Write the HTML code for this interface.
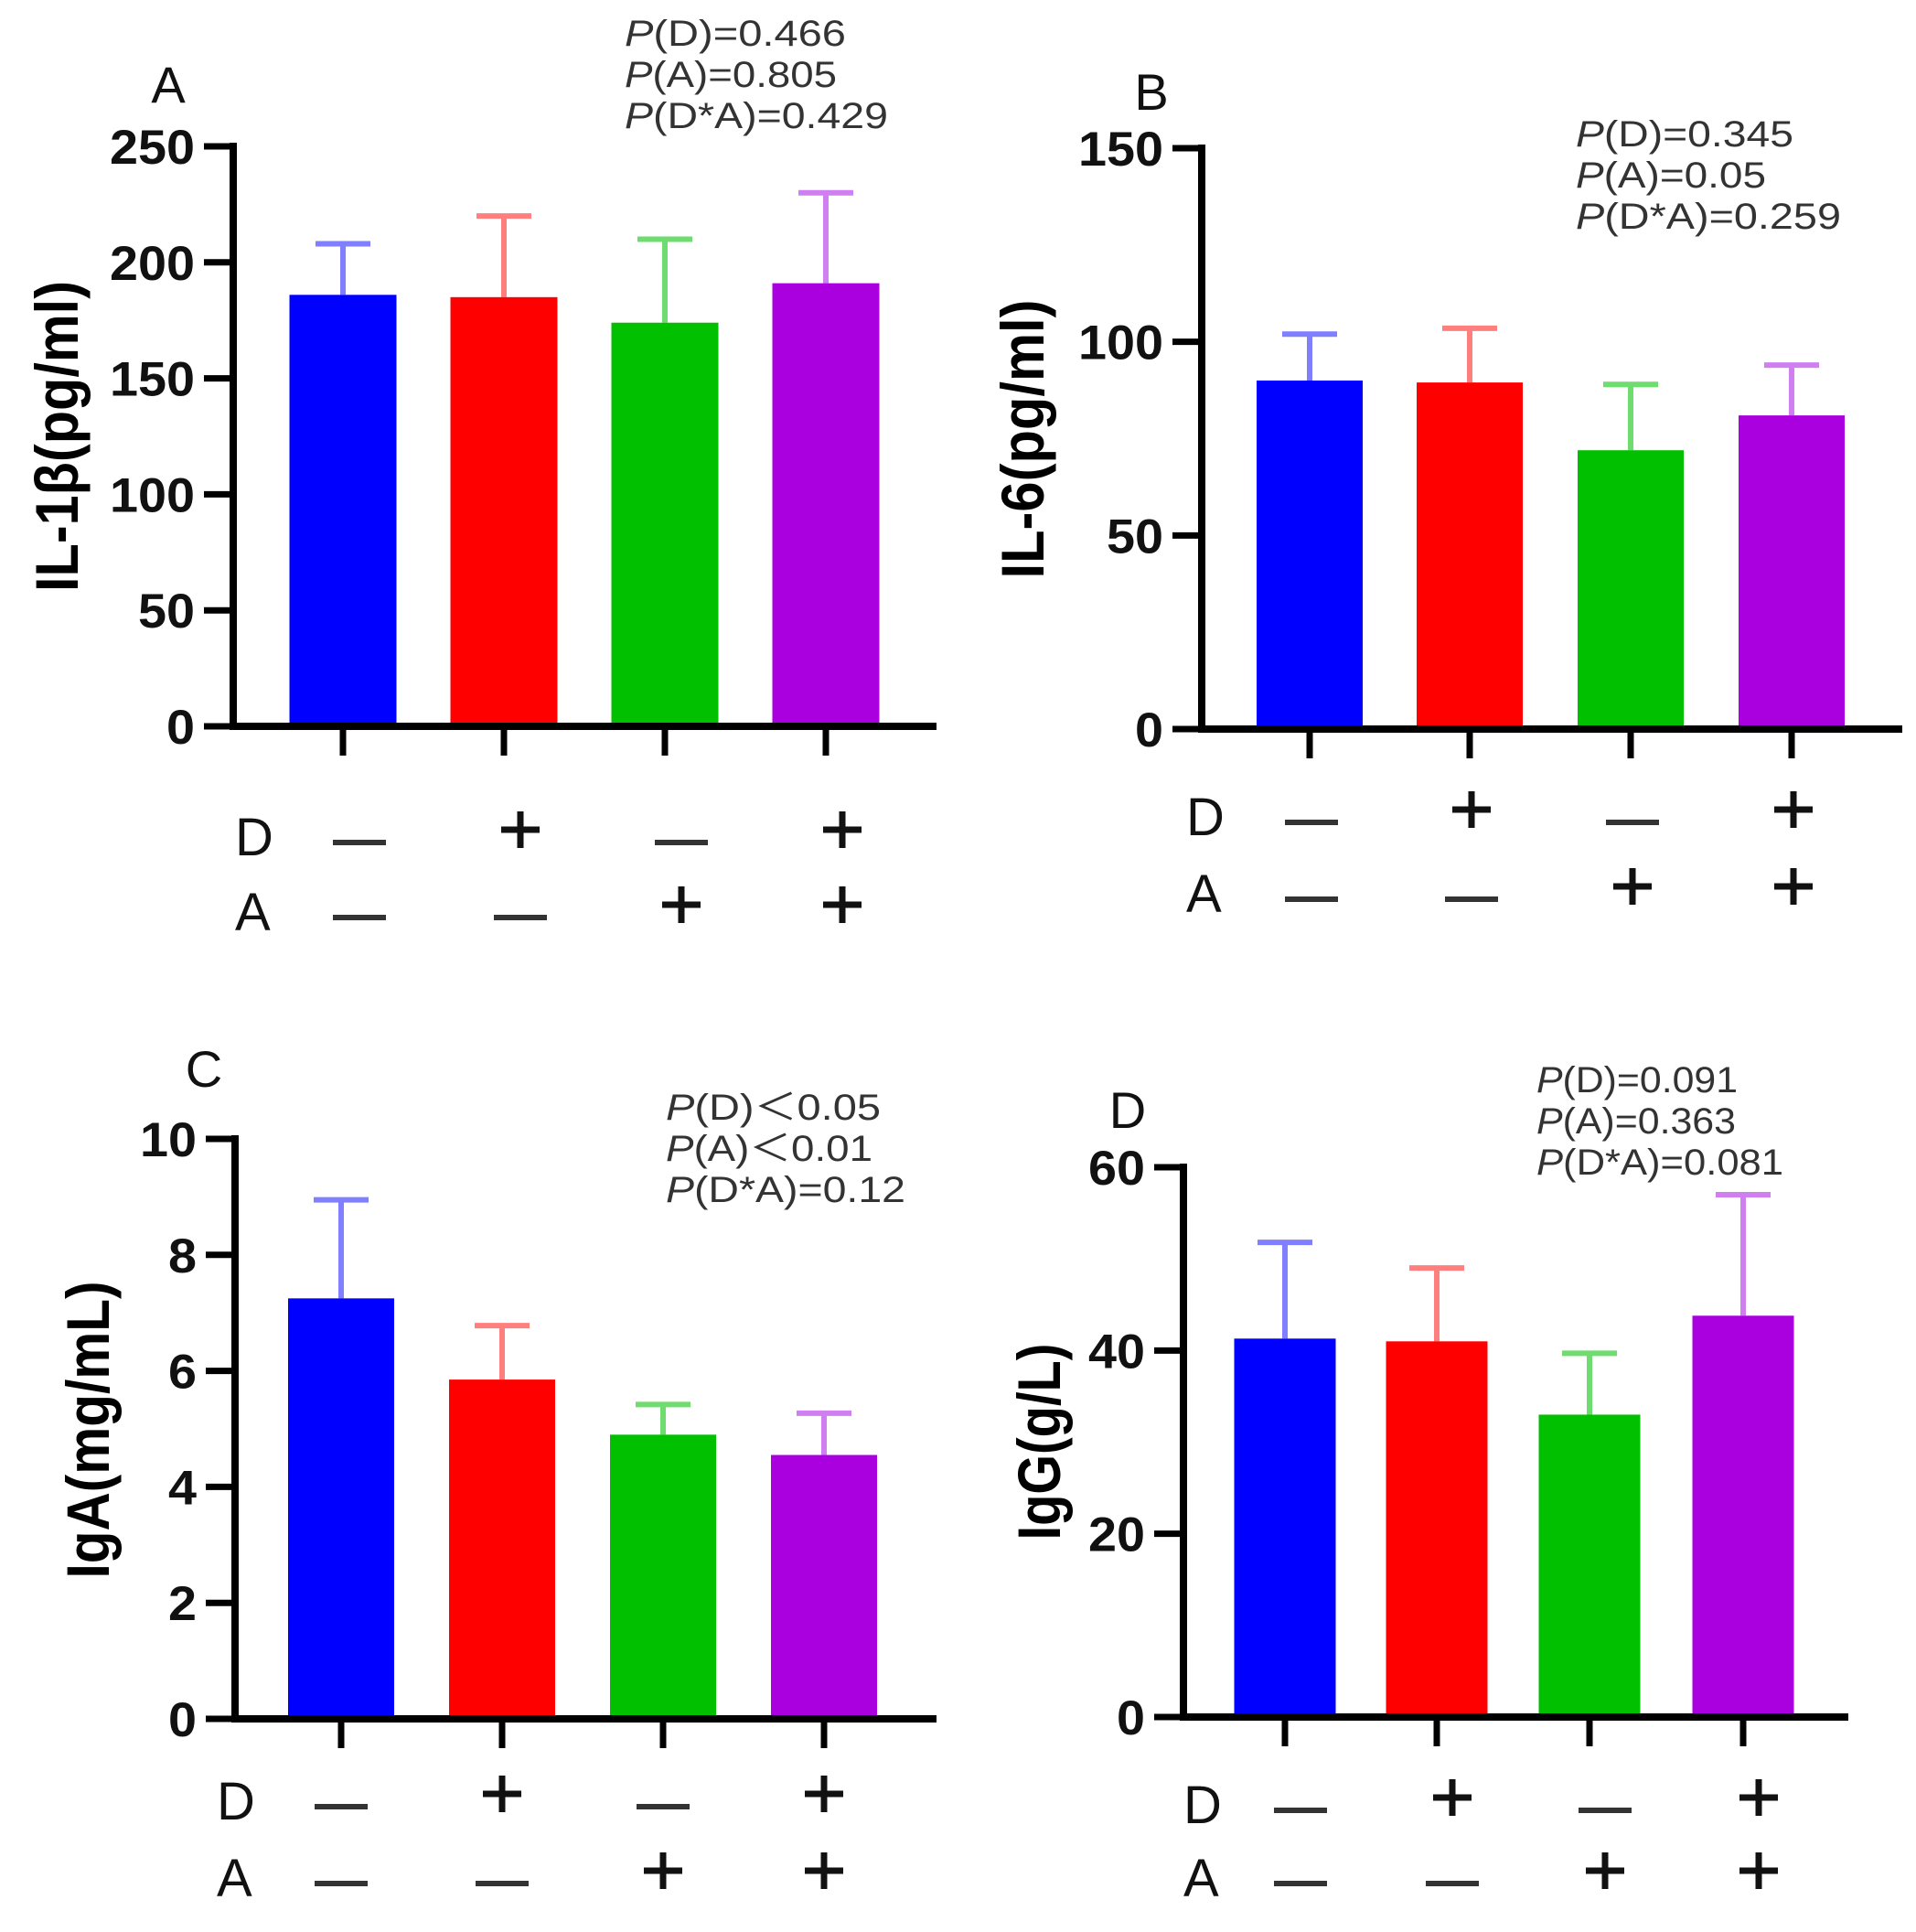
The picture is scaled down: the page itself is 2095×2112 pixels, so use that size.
<!DOCTYPE html>
<html><head><meta charset="utf-8">
<style>
html,body{margin:0;padding:0;background:#fff;}
svg{display:block;}
text{font-family:"Liberation Sans",Arial,sans-serif;}
</style></head>
<body>
<svg id="fig" xmlns="http://www.w3.org/2000/svg" width="2095" height="2112" viewBox="0 0 2095 2112"></svg>
<script>
// ---- data ----
const groups = ['D-A-','D+A-','D-A+','D+A+'];
const dSigns = ['-','+','-','+'];
const aSigns = ['-','-','+','+'];
const il1bMeans = [186, 185, 174, 191];
const il1bUpper = [208, 220, 210, 230];
const il1bTicks = [0, 50, 100, 150, 200, 250];
const il6Means = [90, 89.5, 72, 81];
const il6Upper = [102, 103.5, 89, 94];
const il6Ticks = [0, 50, 100, 150];
const igaMeans = [7.25, 5.85, 4.9, 4.55];
const igaUpper = [8.95, 6.78, 5.42, 5.27];
const igaTicks = [0, 2, 4, 6, 8, 10];
const iggMeans = [41.3, 41.0, 33.0, 43.8];
const iggUpper = [51.8, 49.0, 39.7, 57.0];
const iggTicks = [0, 20, 40, 60];
const pA = ['P(D)=0.466','P(A)=0.805','P(D*A)=0.429'];
const pB = ['P(D)=0.345','P(A)=0.05','P(D*A)=0.259'];
const pC = ['P(D)＜0.05','P(A)＜0.01','P(D*A)=0.12'];
const pD = ['P(D)=0.091','P(A)=0.363','P(D*A)=0.081'];

const barColors = ['#0000ff','#ff0000','#00c000','#aa00e0'];
const errColors = ['#7f7fff','#ff7f7f','#6fdc6f','#d07ff0'];
const NS = 'http://www.w3.org/2000/svg';
const svg = document.getElementById('fig');
function mk(tag, attrs, parent){
  const e = document.createElementNS(NS, tag);
  for (const k in attrs) e.setAttribute(k, attrs[k]);
  (parent||svg).appendChild(e);
  return e;
}

function panel(cfg){
  const g = mk('g', {});
  
  
  const max = cfg.ticks[cfg.ticks.length-1];
  const yS = v => cfg.y0 - (v/max)*(cfg.y0 - cfg.yTop);
  cfg.means.forEach((m,i)=>{
    const cx = cfg.cats[i];
    const eb = mk('line',{x1:cx,x2:cx,y1:yS(m),y2:yS(cfg.upper[i]),stroke:errColors[i],'stroke-width':6},g);
    
    
    const cap = mk('line',{x1:cx-30,x2:cx+30,y1:yS(cfg.upper[i]),y2:yS(cfg.upper[i]),stroke:errColors[i],'stroke-width':6},g);
    
    
    const r = mk('rect',{x:cx-cfg.bw/2,y:yS(m),width:cfg.bw,height:cfg.y0-yS(m),fill:barColors[i]},g);
    
    
  });
  const ya = mk('line',{x1:cfg.ax,x2:cfg.ax,y1:cfg.yTop-4,y2:cfg.y0+4,stroke:'#000','stroke-width':8},g);
  
  
  const xa = mk('line',{x1:cfg.ax-4,x2:cfg.xEnd,y1:cfg.y0,y2:cfg.y0,stroke:'#000','stroke-width':8},g);
  
  
  cfg.ticks.forEach(t=>{
    const y = yS(t);
    const tk = mk('line',{x1:cfg.ax-32,x2:cfg.ax,y1:y,y2:y,stroke:'#000','stroke-width':7},g);
    
    
    const s = String(t);
    const tl = mk('text',{x:cfg.ax-42,y:y+19,'text-anchor':'end','font-size':53,'font-weight':'bold',fill:'#111',
      textLength:s.length*31,lengthAdjust:'spacingAndGlyphs'},g);
    tl.textContent = s;
    
    
  });
  cfg.cats.forEach((cx,i)=>{
    const tk = mk('line',{x1:cx,x2:cx,y1:cfg.y0,y2:cfg.y0+32,stroke:'#000','stroke-width':7},g);
    
    
  });
  const tt = mk('text',{x:cfg.tx,y:cfg.ty,'text-anchor':'middle','font-size':66,'font-weight':'bold',fill:'#000',
    transform:`rotate(-90 ${cfg.tx} ${cfg.ty})`,'dominant-baseline':'central',textLength:cfg.tlen,lengthAdjust:'spacingAndGlyphs'},g);
  tt.textContent = cfg.title;
  
  
  const pl = mk('text',{x:cfg.lx,y:cfg.ly,'text-anchor':'middle','font-size':56,fill:'#111'},g);
  pl.textContent = cfg.id;
  
  
  cfg.p.forEach((s,i)=>{
    const t = mk('text',{x:cfg.px,y:cfg.py+i*45,'font-size':40,fill:'#333',textLength:cfg.plen[i],lengthAdjust:'spacingAndGlyphs'},g);
    const it = mk('tspan',{'font-style':'italic'},t); it.textContent = 'P';
    const rest = mk('tspan',{},t); rest.textContent = s.slice(1);
    
    
  });
  [['D',dSigns,cfg.rD],['A',aSigns,cfg.rA]].forEach(([lab,signs,b])=>{
    const rl = mk('text',{x:cfg.rx,y:b,'font-size':58,fill:'#111'},g);
    rl.textContent = lab;
    
    
    signs.forEach((s,i)=>{
      const cx = cfg.cats[i] + cfg.off;
      if (s==='-'){
        const d = mk('line',{x1:cx-29,x2:cx+29,y1:b-14,y2:b-14,stroke:'#333','stroke-width':6},g);
        
        
      } else {
        const p = mk('path',{d:`M${cx-21} ${b-28}H${cx+21}M${cx} ${b-48}V${b-8}`,stroke:'#111','stroke-width':7,fill:'none'},g);
        
        
      }
    });
  });
}

panel({id:'A',means:il1bMeans,upper:il1bUpper,ticks:il1bTicks,ax:255,y0:794,yTop:160,xEnd:1024,
  cats:[375,551,727,903],bw:117,title:'IL-1β(pg/ml)',tx:62,ty:477,tlen:340,lx:184,ly:112,
  p:pA,px:683,py:50,plen:[242,232,288],rx:257,rD:935,rA:1017,off:18});
panel({id:'B',means:il6Means,upper:il6Upper,ticks:il6Ticks,ax:1314,y0:797,yTop:162,xEnd:2080,
  cats:[1432,1607,1783,1959],bw:116,title:'IL-6(pg/ml)',tx:1118,ty:480,tlen:305,lx:1259,ly:120,
  p:pB,px:1723,py:160,plen:[238,208,290],rx:1297,rD:913,rA:997,off:2});
panel({id:'C',means:igaMeans,upper:igaUpper,ticks:igaTicks,ax:257,y0:1879,yTop:1245,xEnd:1024,
  cats:[373,549,725,901],bw:116,title:'IgA(mg/mL)',tx:96,ty:1563,tlen:325,lx:223,ly:1188,
  p:pC,px:728,py:1224,plen:[235,226,262],rx:237,rD:1989,rA:2073,off:0});
panel({id:'D',means:iggMeans,upper:iggUpper,ticks:iggTicks,ax:1294,y0:1877,yTop:1276,xEnd:2021,
  cats:[1405,1571,1738,1906],bw:111,title:'IgG(g/L)',tx:1136,ty:1576,tlen:215,lx:1233,ly:1233,
  p:pD,px:1680,py:1194,plen:[220,218,270],rx:1294,rD:1993,rA:2073,off:17});
</script>
</body></html>
